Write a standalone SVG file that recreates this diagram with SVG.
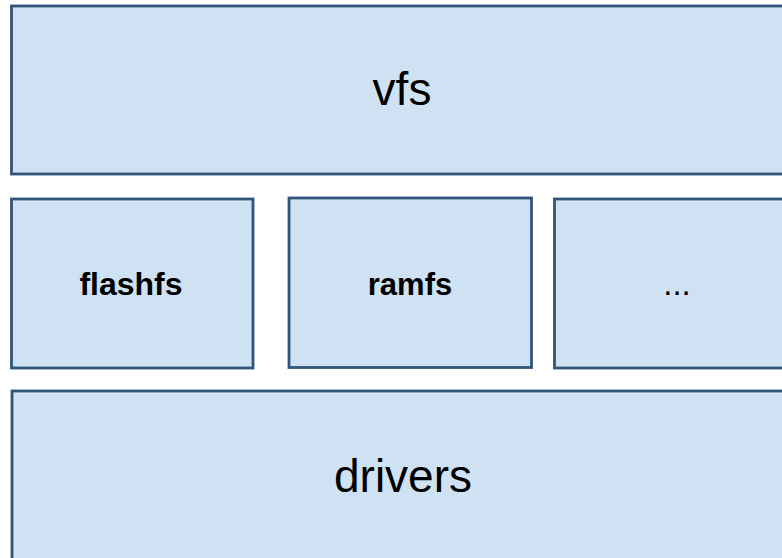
<svg xmlns="http://www.w3.org/2000/svg" width="782" height="558" viewBox="0 0 782 558">
<style>
.box{fill:#cfe2f3;stroke:#30557c;stroke-width:2.8}
.big{font-family:"Liberation Sans",Arial,sans-serif;font-size:46px;fill:#000;text-anchor:middle}
.mid{font-family:"Liberation Sans",Arial,sans-serif;font-size:31px;font-weight:bold;fill:#000;text-anchor:middle}
</style>
<rect width="782" height="558" fill="#fff"/>
<g id="vfs"><rect class="box" x="11.5" y="6" width="790" height="168"/><text class="big" x="402" y="105">vfs</text></g>
<g id="flashfs"><rect class="box" x="11.5" y="199" width="241.5" height="169"/><text class="mid" x="131" y="295" style="font-size:32px">flashfs</text></g>
<g id="ramfs"><rect class="box" x="289" y="198" width="242.5" height="169.5"/><text class="mid" x="410" y="295">ramfs</text></g>
<g id="more"><rect class="box" x="554.5" y="199" width="250" height="169"/><text class="mid" x="677" y="295" style="font-weight:normal;font-size:33px">...</text></g>
<g id="drivers"><rect class="box" x="12" y="391" width="790" height="190"/><text class="big" x="403" y="492">drivers</text></g>
<g id="connectors"></g>
</svg>
